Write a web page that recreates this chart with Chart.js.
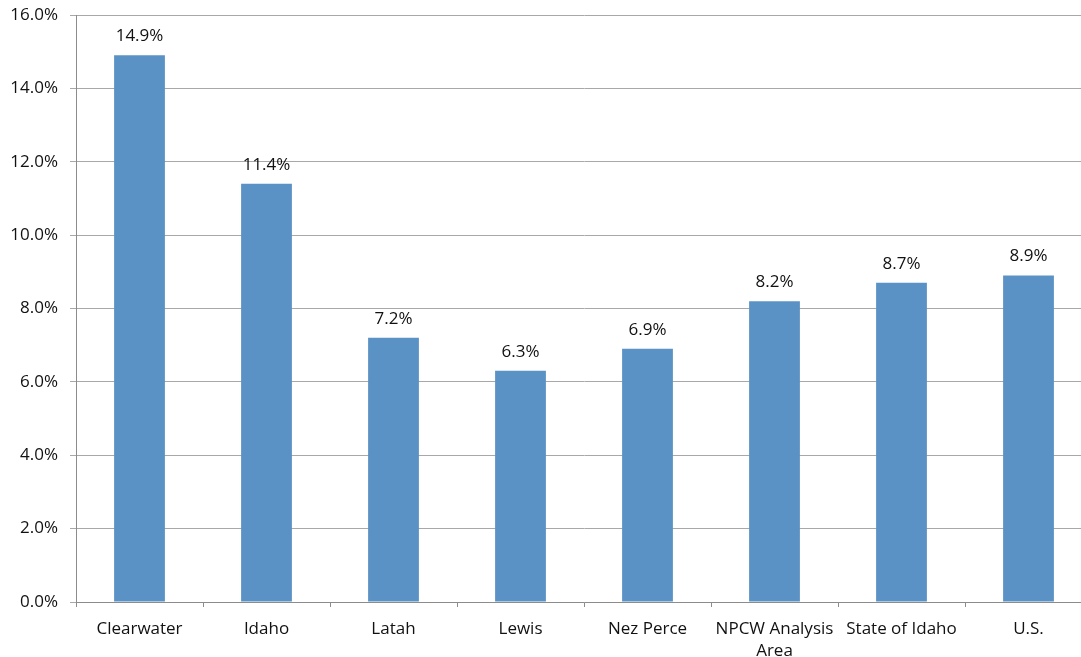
<!DOCTYPE html>
<html>
<head>
<meta charset="utf-8">
<script src="https://cdn.jsdelivr.net/npm/chart.js@4"></script>
<style>
  html, body { margin: 0; padding: 0; background: #fff; overflow: hidden; }
  #wrap { width: 1092px; height: 657px; position: relative; }
</style>
</head>
<body>
<div id="wrap"><canvas id="rateChart"></canvas></div>
<script>
const regions = ["Clearwater", "Idaho", "Latah", "Lewis", "Nez Perce", ["NPCW Analysis", "Area"], "State of Idaho", "U.S."];
const rates = [14.9, 11.4, 7.2, 6.3, 6.9, 8.2, 8.7, 8.9];
const yTicks = [0, 2, 4, 6, 8, 10, 12, 14, 16];

const FONT = "'Open Sans', 'Liberation Sans', sans-serif";

// value labels sitting above each bar
const barValues = {
  id: "barValues",
  afterDatasetsDraw(chart) {
    const ctx = chart.ctx;
    const meta = chart.getDatasetMeta(0);
    ctx.save();
    ctx.font = "17px " + FONT;
    ctx.fillStyle = "#111";
    ctx.textAlign = "center";
    ctx.textBaseline = "middle";
    meta.data.forEach((bar, i) => {
      ctx.fillText(rates[i].toFixed(1) + "%", bar.x, bar.y - 19);
    });
    ctx.restore();
  }
};

new Chart(document.getElementById("rateChart"), {
  type: "bar",
  data: {
    labels: regions,
    datasets: [{
      data: rates,
      backgroundColor: "#5b92c6",
      barPercentage: 0.4,
      categoryPercentage: 1.0
    }]
  },
  options: {
    responsive: true,
    maintainAspectRatio: false,
    animation: false,
    layout: { padding: { top: 15, right: 0, bottom: 0, left: 0 } },
    plugins: {
      legend: { display: false },
      tooltip: { enabled: false }
    },
    scales: {
      x: {
        afterFit(scale) { scale.height = 55; },
        grid: {
          offset: true,
          drawOnChartArea: false,
          drawTicks: true,
          tickLength: 5,
          color: "#8c8c8c"
        },
        border: { color: "#8c8c8c", width: 1 },
        ticks: {
          color: "#111",
          padding: 12,
          maxRotation: 0,
          autoSkip: false,
          font: { family: FONT, size: 17, lineHeight: 1.25 }
        }
      },
      y: {
        min: 0,
        max: 16,
        afterFit(scale) {
          scale.width = 76;
          scale.paddingTop = 0;
          scale.paddingBottom = 0;
        },
        afterBuildTicks(scale) { scale.ticks = yTicks.map(v => ({ value: v })); },
        grid: {
          color: "#a8a8a8",
          drawTicks: true,
          tickLength: 6
        },
        border: { color: "#8c8c8c", width: 1 },
        ticks: {
          color: "#111",
          padding: 12,
          font: { family: FONT, size: 17 },
          callback: v => v.toFixed(1) + "%"
        }
      }
    }
  },
  plugins: [barValues]
});
</script>
</body>
</html>
